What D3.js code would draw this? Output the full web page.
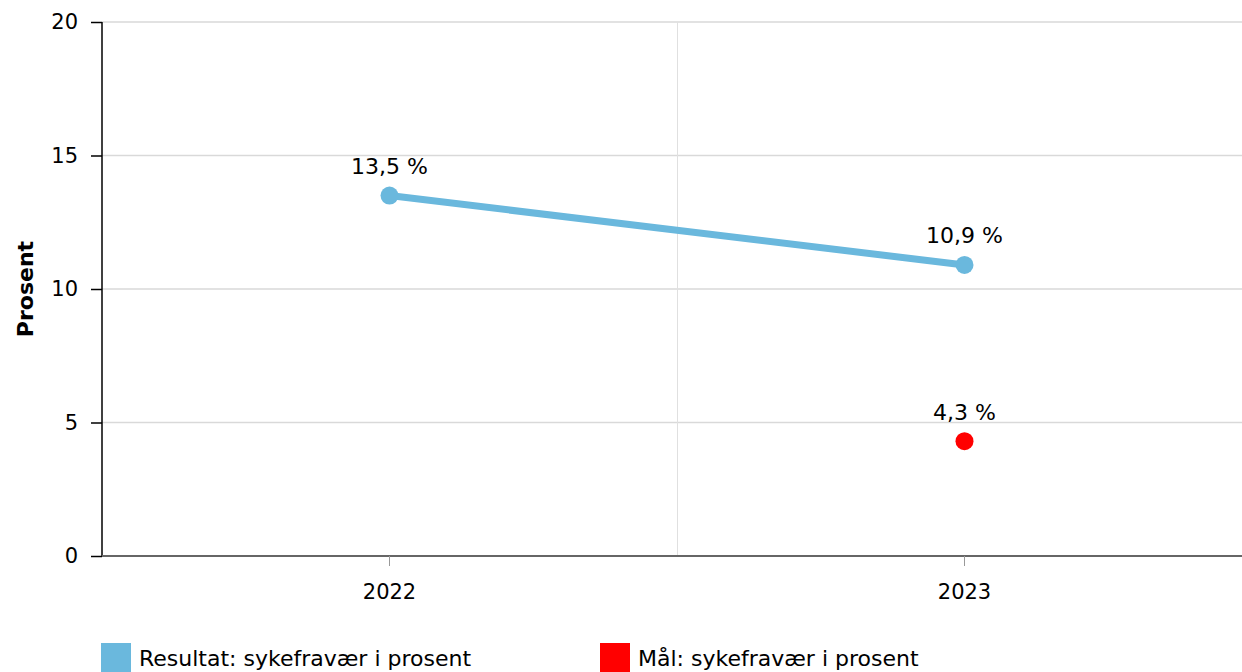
<!DOCTYPE html>
<html><head><meta charset="utf-8">
<script src="https://cdn.jsdelivr.net/npm/d3@7"></script>
<style>
html,body{margin:0;padding:0;background:#fff;}
svg{display:block;font-family:"DejaVu Sans",Verdana,sans-serif;}
</style></head>
<body>
<svg id="c" width="1242" height="672"></svg>
<script>
const categories = ["2022", "2023"];
const resultatValues = [13.5, 10.9];
const malValues = [null, 4.3];
const yTicks = [0, 5, 10, 15, 20];
const seriesNames = ["Resultat: sykefravær i prosent", "Mål: sykefravær i prosent"];
const seriesColors = ["#6ab8dd", "#ff0000"];
const yTitle = "Prosent";

(function () {
const fmt = v => String(v).replace(".", ",") + " %";
const FF = '"DejaVu Sans",Verdana,sans-serif';

const svg = d3.select("#c");
const mLeft = 102, mTop = 22, mBottom = 556, mRight = 1252;

const x = d3.scaleBand().domain(categories).range([mLeft, mRight]).padding(0);
const y = d3.scaleLinear().domain([0, 20]).range([mBottom, mTop]);

// horizontal gridlines
svg.append("g").selectAll("line").data(yTicks.filter(t => t > 0)).join("line")
  .attr("x1", mLeft).attr("x2", 1242)
  .attr("y1", d => y(d)).attr("y2", d => y(d))
  .attr("stroke", "#d9d9d9").attr("stroke-width", 1.3);

// vertical gridlines between categories
svg.append("g").selectAll("line").data(categories.slice(1)).join("line")
  .attr("x1", d => Math.round(x(d)) + 0.5).attr("x2", d => Math.round(x(d)) + 0.5)
  .attr("y1", mTop).attr("y2", mBottom)
  .attr("stroke", "#e0e0e0").attr("stroke-width", 1);

// y axis
const yAxis = svg.append("g").attr("transform", `translate(${mLeft},0)`)
  .call(d3.axisLeft(y).tickValues(yTicks).tickSize(11).tickPadding(13));
yAxis.select(".domain").attr("stroke", "#000").attr("stroke-width", 1.5).attr("d", `M0,${mTop}V${mBottom}`);
yAxis.selectAll(".tick line").attr("stroke", "#000").attr("stroke-width", 1.5);
yAxis.selectAll(".tick text").attr("font-size", 21).attr("fill", "#000").attr("font-family", FF);

// x axis
const xAxis = svg.append("g").attr("transform", `translate(0,${mBottom})`)
  .call(d3.axisBottom(x).tickSize(10).tickPadding(18));
xAxis.select(".domain").attr("stroke", "#666").attr("stroke-width", 2).attr("d", `M${mLeft},0H1242`);
xAxis.selectAll(".tick line").attr("stroke", "#999").attr("stroke-width", 1);
xAxis.selectAll(".tick text").attr("font-size", 21).attr("fill", "#000").attr("font-family", FF);

// y title
svg.append("text").attr("transform", `translate(33,${(mTop + mBottom) / 2}) rotate(-90)`)
  .attr("text-anchor", "middle").attr("font-size", 22).attr("font-weight", "bold")
  .text(yTitle);

const cx = d => x(d) + x.bandwidth() / 2;

// resultat line
const resData = categories.map((c, i) => ({c, v: resultatValues[i]})).filter(d => d.v != null);
svg.append("path").datum(resData)
  .attr("d", d3.line().x(d => cx(d.c)).y(d => y(d.v)))
  .attr("fill", "none").attr("stroke", seriesColors[0]).attr("stroke-width", 7);
svg.append("g").selectAll("circle").data(resData).join("circle")
  .attr("cx", d => cx(d.c)).attr("cy", d => y(d.v)).attr("r", 9).attr("fill", seriesColors[0]);
svg.append("g").selectAll("text").data(resData).join("text")
  .attr("x", d => cx(d.c)).attr("y", d => y(d.v) - 21.5)
  .attr("text-anchor", "middle").attr("font-size", 22).attr("fill", "#000")
  .text(d => fmt(d.v));

// mål points
const malData = categories.map((c, i) => ({c, v: malValues[i]})).filter(d => d.v != null);
svg.append("g").selectAll("circle").data(malData).join("circle")
  .attr("cx", d => cx(d.c)).attr("cy", d => y(d.v)).attr("r", 9).attr("fill", seriesColors[1]);
svg.append("g").selectAll("text").data(malData).join("text")
  .attr("x", d => cx(d.c)).attr("y", d => y(d.v) - 21.5)
  .attr("text-anchor", "middle").attr("font-size", 22).attr("fill", "#000")
  .text(d => fmt(d.v));

// legend
const legX = [101, 600];
const leg = svg.append("g").selectAll("g").data(seriesNames).join("g")
  .attr("transform", (d, i) => `translate(${legX[i]},643)`);
leg.append("rect").attr("width", 30).attr("height", 30).attr("fill", (d, i) => seriesColors[i]);
leg.append("text").attr("x", 38).attr("y", 23).attr("font-size", 22).attr("fill", "#000").text(d => d);
})();
</script>
</body></html>
